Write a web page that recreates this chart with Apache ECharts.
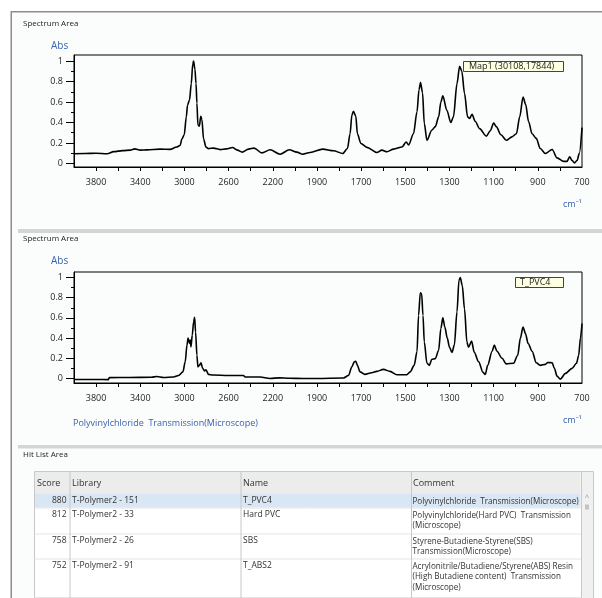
<!DOCTYPE html>
<html><head><meta charset="utf-8">
<script src="https://cdn.jsdelivr.net/npm/echarts@6/dist/echarts.min.js"></script>
<style>html,body{margin:0;padding:0;background:#fff}#c{width:602px;height:598px}</style>
</head><body><div id="c"></div>
<script>
// ---------- data ----------
const mapName = 'Map1 (30108,17844)';
const mapWn = [4000,3900,3800,3700,3640,3560,3490,3450,3400,3340,3220,3130,3070,3040,3022,3002,2983,2972,2954,2938,2925,2917,2905,2895,2887,2878,2865,2852,2842,2827,2805,2782,2737,2676,2620,2565,2520,2477,2420,2369,2299,2224,2134,2050,1991,1964,1931,1874,1825,1783,1762,1750,1742,1735,1724,1717,1701,1674,1629,1606,1583,1553,1515,1496,1485,1463,1447,1438,1431,1422,1414,1402,1380,1364,1349,1339,1330,1312,1294,1282,1266,1254,1244,1232,1218,1209,1198,1183,1164,1133,1115,1100,1088,1067,1043,1017,997,982,967,955,942,926,907,889,866,835,813,783,768,756,745,734,722,712,700];
const mapAbs = [0.095,0.097,0.10,0.095,0.115,0.125,0.13,0.142,0.13,0.132,0.14,0.137,0.16,0.175,0.24,0.28,0.455,0.57,0.62,0.78,0.97,1.0,0.92,0.78,0.59,0.375,0.365,0.46,0.43,0.24,0.16,0.145,0.15,0.135,0.142,0.155,0.13,0.11,0.14,0.15,0.103,0.133,0.09,0.133,0.11,0.09,0.107,0.14,0.124,0.097,0.146,0.29,0.47,0.51,0.46,0.29,0.195,0.157,0.107,0.13,0.114,0.14,0.16,0.21,0.18,0.29,0.505,0.72,0.79,0.69,0.39,0.227,0.325,0.36,0.455,0.6,0.66,0.52,0.40,0.455,0.78,0.95,0.9,0.685,0.455,0.44,0.48,0.41,0.34,0.267,0.32,0.395,0.36,0.28,0.227,0.26,0.29,0.455,0.65,0.575,0.41,0.29,0.245,0.146,0.097,0.136,0.054,0.02,0.02,0.064,0.03,0.005,0.03,0.1,0.35];

const pvcName = 'T_PVC4';
const pvcWn = [4000,3800,3690,3680,3500,3300,3250,3190,3100,3053,3014,2993,2977,2967,2960,2954,2948,2941,2929,2917,2908,2899,2887,2878,2865,2850,2835,2818,2805,2782,2742,2600,2466,2450,2315,2224,2140,2050,1964,1900,1780,1757,1742,1731,1724,1717,1705,1683,1652,1629,1599,1569,1538,1493,1478,1460,1447,1440,1432,1426,1420,1414,1402,1391,1380,1364,1349,1339,1330,1321,1310,1300,1289,1278,1266,1257,1251,1242,1232,1221,1214,1200,1188,1168,1148,1138,1127,1107,1097,1085,1062,1043,1010,991,979,967,956,944,926,907,889,866,855,835,825,813,798,775,745,725,715,707,700];
const pvcAbs = [-0.01,-0.01,-0.012,0.008,0.01,0.012,0.02,0.01,0.015,0.03,0.065,0.165,0.33,0.40,0.37,0.35,0.38,0.313,0.43,0.56,0.605,0.46,0.23,0.115,0.13,0.155,0.10,0.075,0.085,0.04,0.035,0.03,0.03,0.015,0.015,0.0,0.006,0.002,0.0,0.0,0.004,0.03,0.115,0.165,0.17,0.13,0.065,0.04,0.056,0.07,0.09,0.07,0.037,0.037,0.065,0.13,0.265,0.625,0.85,0.84,0.625,0.36,0.15,0.13,0.19,0.197,0.28,0.495,0.6,0.51,0.4,0.31,0.257,0.33,0.66,0.973,1.0,0.92,0.69,0.36,0.31,0.37,0.26,0.165,0.06,0.04,0.13,0.27,0.33,0.27,0.2,0.145,0.15,0.23,0.4,0.51,0.445,0.347,0.27,0.155,0.13,0.14,0.158,0.155,0.1,0.023,-0.007,0.05,0.1,0.15,0.23,0.4,0.545];

const xTickWn = [3800,3600,3400,3200,3000,2800,2600,2400,2200,2000,1900,1800,1700,1600,1500,1400,1300,1200,1100,1000,900,800];
const xLabelWn = [3800,3400,3000,2600,2200,1900,1700,1500,1300,1100,900,700];
const yLabelVals = [0,0.2,0.4,0.6,0.8,1];
const yMinorVals = [0.1,0.3,0.5,0.7,0.9];

const hitHeaders = ['Score','Library','Name','Comment'];
const hitScores = [880,812,758,752];
const hitLibraries = ['T-Polymer2 - 151','T-Polymer2 - 33','T-Polymer2 - 26','T-Polymer2 - 91'];
const hitNames = ['T_PVC4','Hard PVC','SBS','T_ABS2'];
const hitComments = [
  'Polyvinylchloride  Transmission(Microscope)',
  'Polyvinylchloride(Hard PVC)  Transmission\n(Microscope)',
  'Styrene-Butadiene-Styrene(SBS)\nTransmission(Microscope)',
  'Acrylonitrile/Butadiene/Styrene(ABS) Resin\n(High Butadiene content)  Transmission\n(Microscope)'
];
const bottomCaption = 'Polyvinylchloride  Transmission(Microscope)';

// ---------- axis transform (scale x2 below 2000 cm-1) ----------
const toT = w => w <= 2000 ? 2000 - w : (2000 - w) / 2;
const toWn = t => Math.round(t >= 0 ? 2000 - t : 2000 - 2 * t);

const FONT = "'Open Sans','Noto Sans',sans-serif";
const BLUE = '#3a62b0';
const TXT = '#1e1e1e';

function xAxisFor(g) {
  return {
    gridIndex: g, type: 'value', min: toT(4000), max: toT(700),
    axisLine: { onZero: false, lineStyle: { color: '#000', width: 1 } },
    splitLine: { show: false },
    axisTick: { customValues: xTickWn.map(toT), length: 4, lineStyle: { color: '#000' } },
    axisLabel: { customValues: xLabelWn.map(toT), formatter: v => String(toWn(v)),
      margin: 11, fontSize: 9, color: TXT, fontFamily: FONT }
  };
}
function yAxesFor(g, mn, mx) {
  return [{
    gridIndex: g, type: 'value', min: mn, max: mx, position: 'left',
    axisLine: { show: true, onZero: false, lineStyle: { color: '#000' } },
    splitLine: { show: false },
    axisTick: { customValues: yLabelVals, length: 8, lineStyle: { color: '#000' } },
    axisLabel: { customValues: yLabelVals, margin: 11, fontSize: 9, color: TXT, fontFamily: FONT }
  }, {
    gridIndex: g, type: 'value', min: mn, max: mx, position: 'left',
    axisLine: { show: false, onZero: false }, splitLine: { show: false },
    axisTick: { customValues: yMinorVals, length: 3, lineStyle: { color: '#000' } },
    axisLabel: { show: false }
  }];
}
function lineSeries(name, wn, ab, g) {
  return {
    name, type: 'line', xAxisIndex: g, yAxisIndex: g * 2,
    data: wn.map((w, i) => [toT(w), ab[i]]),
    showSymbol: false, smooth: 0.3, smoothMonotone: 'x', clip: true,
    lineStyle: { color: '#000', width: 1.6 }, silent: true
  };
}

// ---------- decorations & table ----------
const gfx = [];
const txt = (x, y, s, size, color, extra) => gfx.push({ type: 'text', x, y, silent: true,
  style: Object.assign({ text: s, fontSize: size, fontFamily: FONT, fill: color, verticalAlign: 'middle', align: 'left' }, extra || {}) });
const rect = (x, y, w, h, fill, stroke) => gfx.push({ type: 'rect', silent: true,
  shape: { x, y, width: w, height: h }, style: { fill: fill || 'none', stroke: stroke || 'none', lineWidth: 1 } });
const line = (x1, y1, x2, y2, c, w) => gfx.push({ type: 'line', silent: true,
  shape: { x1, y1, x2, y2 }, style: { stroke: c, lineWidth: w || 1 } });

rect(0, 0, 602, 11, '#fff'); rect(0, 0, 10.5, 598, '#fff');
line(11, 11.75, 602, 11.75, '#8c8c8c', 1.5);
line(11.25, 11, 11.25, 598, '#8c8c8c', 1.5);
rect(18, 229, 584, 4, '#d5d5d5');
rect(18, 445, 584, 3.5, '#d5d5d5');
txt(23, 24, 'Spectrum Area', 8, TXT);
txt(23, 239, 'Spectrum Area', 8, TXT);
txt(23, 455, 'Hit List Area', 8, TXT);
txt(51, 46, 'Abs', 10, BLUE);
txt(51, 261, 'Abs', 10, BLUE);
txt(563, 204, 'cm⁻¹', 9, BLUE);
txt(563, 420, 'cm⁻¹', 9, BLUE);
txt(73, 423, bottomCaption, 9, BLUE);
// series name boxes
rect(463.5, 61.5, 100, 10, '#ffffe1', '#444');
txt(469, 66.5, mapName, 9, '#222');
rect(515.5, 277.5, 48, 10, '#ffffe1', '#444');
txt(520, 282.5, pvcName, 9, '#222');

// table
const colX = [34.5, 69.5, 240.5, 411, 581, 593.5];
const tTop = 471.5, hdrBottom = 493.5;
const rowTops = [493.5, 507.5, 533.5, 558.5, 598];
rect(colX[0], tTop, colX[5] - colX[0], 598 - tTop, '#fff', '#c8c8c8');
rect(colX[0] + 0.5, tTop + 0.5, colX[4] - colX[0] - 1, hdrBottom - tTop - 0.5, '#ececec');
rect(colX[0] + 0.5, rowTops[0], colX[4] - colX[0] - 1, rowTops[1] - rowTops[0], '#d9e6f3');
rect(colX[4], tTop + 0.5, colX[5] - colX[4] - 0.5, 598 - tTop, '#f0f0f0');
for (let i = 1; i < 4; i++) line(colX[0], rowTops[i] + 0.5, colX[4], rowTops[i] + 0.5, '#e4e4e4', 1);
[colX[1], colX[2], colX[3], colX[4]].forEach(x => line(x + 0.5, tTop, x + 0.5, 598, '#c8c8c8', 1));
txt(37, 483, hitHeaders[0], 9, '#333');
txt(72, 483, hitHeaders[1], 9, '#333');
txt(243, 483, hitHeaders[2], 9, '#333');
txt(413, 483, hitHeaders[3], 9, '#333');
for (let i = 0; i < hitScores.length; i++) {
  const yc = rowTops[i] + 7.5;
  txt(66.5, yc, String(hitScores[i]), 8.5, '#333', { align: 'right' });
  txt(72, yc, hitLibraries[i], 8.5, '#333');
  txt(243, yc, hitNames[i], 8.5, '#333');
  txt(412.5, yc - 5, hitComments[i], 8.1, '#333', { verticalAlign: 'top', lineHeight: 10.5 });
}
txt(587, 498, '^', 8, '#999', { align: 'center' });
rect(585, 504.5, 4, 5, '#c4c4c4');

const chart = echarts.init(document.getElementById('c'));
chart.setOption({
  animation: false,
  backgroundColor: '#fbfcfc',
  grid: [
    { left: 74, top: 55, width: 508, height: 112, show: true, borderColor: '#000', borderWidth: 1, backgroundColor: 'transparent' },
    { left: 74, top: 272, width: 508, height: 111, show: true, borderColor: '#000', borderWidth: 1, backgroundColor: 'transparent' }
  ],
  xAxis: [xAxisFor(0), xAxisFor(1)],
  yAxis: [...yAxesFor(0, -0.035, 1.06), ...yAxesFor(1, -0.045, 1.055)],
  series: [lineSeries(mapName, mapWn, mapAbs, 0), lineSeries(pvcName, pvcWn, pvcAbs, 1)],
  graphic: { elements: gfx }
});
</script></body></html>
